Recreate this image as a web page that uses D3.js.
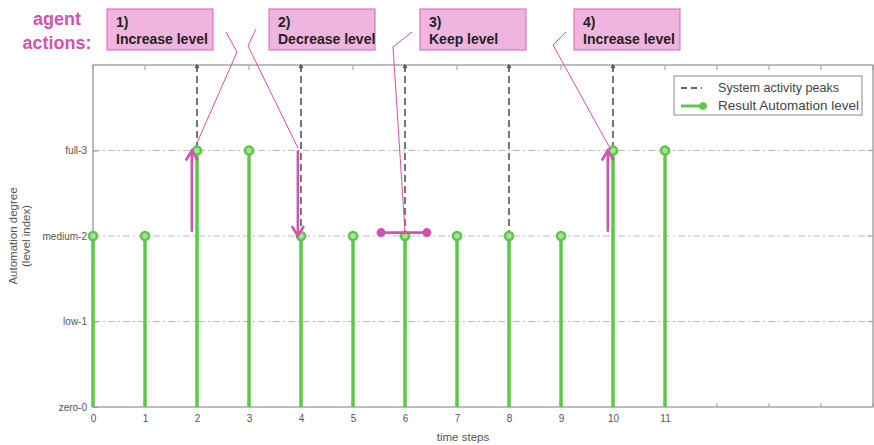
<!DOCTYPE html>
<html><head><meta charset="utf-8">
<script src="https://cdn.jsdelivr.net/npm/d3@7"></script>
<style>body{margin:0;background:#fff;font-family:"Liberation Sans",Arial,sans-serif}</style>
</head><body><svg id="c" width="874" height="445"></svg>
<script>
const timeSteps = [0,1,2,3,4,5,6,7,8,9,10,11];
const automationLevel = [2,2,3,3,2,2,2,2,2,2,3,3];
const peakSteps = [2,4,6,8,10];
const peakLevels = [3,2,2,2,3];
const yTickLabels = ["zero-0","low-1","medium-2","full-3"];
const actionLabels = [["1)","Increase level"],["2)","Decrease level"],["3)","Keep level"],["4)","Increase level"]];

const svg = d3.select("#c");
const W=874,H=445, L=93,R=873,T=65,B=407;
const x = d3.scaleLinear().domain([0,15]).range([L,R]);
const y = d3.scaleLinear().domain([0,4]).range([B,T]);
const green="#5cc84a", pink="#d452ae", grey="#999";

svg.append("g").selectAll("line").data([1,2,3]).join("line")
  .attr("x1",L).attr("x2",R).attr("y1",d=>y(d)).attr("y2",d=>y(d))
  .attr("stroke","#bbb").attr("stroke-width",1.2).attr("stroke-dasharray","7,3,2,3");

svg.append("rect").attr("x",L).attr("y",T).attr("width",R-L).attr("height",B-T)
  .attr("fill","none").attr("stroke",grey).attr("stroke-width",1.3);

const xAxis = d3.axisBottom(x).tickValues(timeSteps).tickSize(0).tickPadding(8);
const gx = svg.append("g").attr("transform",`translate(0,${B})`).call(xAxis);
gx.select(".domain").remove();
gx.selectAll("text").attr("font-size",10).attr("fill","#555").attr("font-family","Liberation Sans, Arial");
const yAxis = d3.axisLeft(y).tickValues([0,1,2,3]).tickFormat(d=>yTickLabels[d]).tickSize(-5).tickPadding(6);
const gy = svg.append("g").attr("transform",`translate(${L},0)`).call(yAxis);
gy.select(".domain").remove();
gy.selectAll("line").attr("stroke",grey);
gy.selectAll("text").attr("font-size",10).attr("fill","#555").attr("font-family","Liberation Sans, Arial");
svg.append("g").selectAll("line").data(d3.range(0,16)).join("line")
  .attr("x1",d=>x(d)).attr("x2",d=>x(d)).attr("y1",T).attr("y2",T+5).attr("stroke",grey);
svg.append("g").selectAll("line").data([1,2,3]).join("line")
  .attr("x1",R).attr("x2",R-5).attr("y1",d=>y(d)).attr("y2",d=>y(d)).attr("stroke",grey);
svg.append("g").selectAll("line").data(d3.range(0,16)).join("line")
  .attr("x1",d=>x(d)).attr("x2",d=>x(d)).attr("y1",B).attr("y2",B-4).attr("stroke",grey);

svg.append("text").attr("x",463).attr("y",441).attr("text-anchor","middle")
  .attr("font-size",11.5).attr("fill","#555").text("time steps");
const yl = svg.append("text").attr("transform",`translate(17,236) rotate(-90)`).attr("text-anchor","middle")
  .attr("font-size",11.5).attr("fill","#555");
yl.append("tspan").attr("x",0).attr("dy",0).text("Automation degree");
yl.append("tspan").attr("x",0).attr("dy",13).text("(level index)");

svg.append("g").selectAll("line").data(peakSteps).join("line")
  .attr("x1",d=>x(d)).attr("x2",d=>x(d)).attr("y1",y(4)).attr("y2",(d,i)=>y(peakLevels[i]))
  .attr("stroke","#555").attr("stroke-width",1.6).attr("stroke-dasharray","7,4");
svg.append("g").selectAll("path").data(peakSteps).join("path")
  .attr("d",d=>`M${x(d)-2},${T+3} L${x(d)},${T} L${x(d)+2},${T+3}`).attr("fill","none").attr("stroke","#444").attr("stroke-width",1.2);

svg.append("g").selectAll("line").data(timeSteps).join("line")
  .attr("x1",d=>x(d)).attr("x2",d=>x(d)).attr("y1",y(0)).attr("y2",(d,i)=>y(automationLevel[i]))
  .attr("stroke",green).attr("stroke-width",3.5);
svg.append("g").selectAll("circle").data(timeSteps).join("circle")
  .attr("cx",d=>x(d)).attr("cy",(d,i)=>y(automationLevel[i])).attr("r",4)
  .attr("fill","#a9e39b").attr("stroke",green).attr("stroke-width",2.6);

const lg = svg.append("g");
lg.append("rect").attr("x",674).attr("y",76).attr("width",188).attr("height",39).attr("fill","#fff").attr("stroke","#888").attr("stroke-width",1);
lg.append("line").attr("x1",681).attr("x2",702).attr("y1",88).attr("y2",88).attr("stroke","#333").attr("stroke-width",1.3).attr("stroke-dasharray","6,4");
lg.append("text").attr("x",718).attr("y",92).attr("font-size",12.6).attr("fill","#444").text("System activity peaks");
lg.append("line").attr("x1",681).attr("x2",702).attr("y1",106).attr("y2",106).attr("stroke",green).attr("stroke-width",3);
lg.append("circle").attr("cx",703).attr("cy",106).attr("r",3.5).attr("fill",green).attr("stroke",green);
lg.append("text").attr("x",718).attr("y",110).attr("font-size",12.6).attr("fill","#444")
  .attr("textLength",141).attr("lengthAdjust","spacingAndGlyphs").text("Result Automation level");

const aa = svg.append("text").attr("text-anchor","middle").attr("font-size",18).attr("font-weight","bold").attr("fill",pink);
aa.append("tspan").attr("x",57).attr("y",25).text("agent");
aa.append("tspan").attr("x",57).attr("y",49).text("actions:");
const boxX = [107,269,420,574];
actionLabels.forEach((lab,i)=>{
  svg.append("rect").attr("x",boxX[i]).attr("y",9).attr("width",106).attr("height",41)
    .attr("fill","#efb5df").attr("stroke","#d462b4").attr("stroke-width",1);
  const t = svg.append("text").attr("font-size",14).attr("font-weight","bold").attr("fill","#222");
  t.append("tspan").attr("x",boxX[i]+9).attr("y",27).text(lab[0]);
  t.append("tspan").attr("x",boxX[i]+9).attr("y",44).text(lab[1]);
});
const callouts = [
  [[226,32],[237,52],[197,143]],
  [[256,29],[248,46],[298,148]],
  [[412,32],[393,47],[405,232]],
  [[566,32],[553,45],[611,150]]
];
callouts.forEach(p=>svg.append("path").attr("d",d3.line()(p)).attr("fill","none").attr("stroke",pink).attr("stroke-width",1));

function arrow(xv,y0,y1){
  const X=x(xv),Y0=y(y0),Y1=y(y1),dir=Y1<Y0?1:-1;
  svg.append("line").attr("x1",X).attr("x2",X).attr("y1",Y0).attr("y2",Y1).attr("stroke",pink).attr("stroke-width",2.6);
  svg.append("path").attr("d",`M${X-6},${Y1+dir*10} L${X},${Y1} L${X+6},${Y1+dir*10}`).attr("fill","none").attr("stroke",pink).attr("stroke-width",2.6);
}
arrow(1.9,2.05,3);
arrow(3.94,3,2);
arrow(9.9,2.05,3);
svg.append("line").attr("x1",x(5.54)).attr("x2",x(6.42)).attr("y1",y(2.04)).attr("y2",y(2.04)).attr("stroke",pink).attr("stroke-width",2.6);
svg.append("g").selectAll("circle").data([5.54,6.42]).join("circle").attr("cx",d=>x(d)).attr("cy",y(2.04)).attr("r",4.5).attr("fill",pink);
</script></body></html>
